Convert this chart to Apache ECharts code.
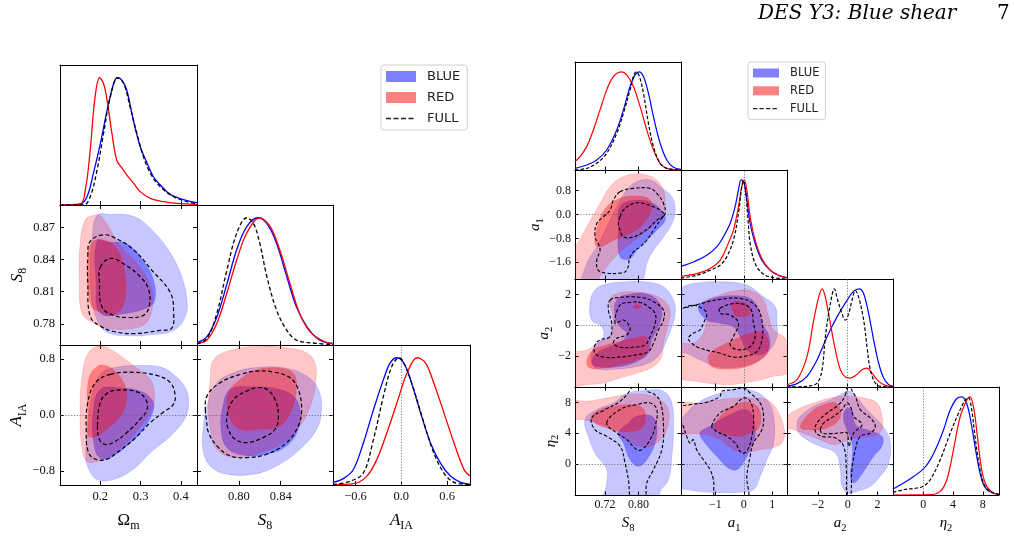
<!DOCTYPE html>
<html><head><meta charset="utf-8">
<script src="https://cdn.jsdelivr.net/npm/echarts@6/dist/echarts.min.js"></script>
<style>html,body{margin:0;padding:0;background:#fff}#chart{width:1014px;height:560px}</style>
</head><body><div id="chart"></div>
<script>
// ================= DATA =================
// tick values
const TICK_OM = [0.2, 0.3, 0.4];
const TICK_S8_X = [0.80, 0.84];
const TICK_S8_Y = [0.78, 0.81, 0.84, 0.87];
const TICK_AIA_X = [-0.6, 0, 0.6];
const TICK_AIA_Y = [-0.8, 0, 0.8];
const TICK_RS8 = [0.72, 0.80];
const TICK_A1_X = [-1, 0, 1];
const TICK_A1_Y = [-1.6, -0.8, 0, 0.8];
const TICK_A2 = [-2, 0, 2];
const TICK_ETA = [0, 4, 8];
// axis ranges
const RANGE_OM = [0.10, 0.44];
const RANGE_S8_X = [0.76, 0.89];
const RANGE_S8_Y = [0.7604, 0.8908];
const RANGE_AIA_X = [-0.894, 0.899];
const RANGE_AIA_Y = [-1.0, 1.0];
const RANGE_RS8 = [0.648, 0.902];
const RANGE_A1_X = [-2.21, 1.52];
const RANGE_A1_Y = [-2.16, 1.49];
const RANGE_A2_X = [-4.07, 3.04];
const RANGE_A2_Y = [-4.0, 3.0];
const RANGE_ETA_X = [-4.06, 10.18];
const RANGE_ETA_Y = [-4.03, 10.0];
const RANGE_PDF = [0, 1.1];
const LEGEND_NAMES = ['BLUE', 'RED', 'FULL'];

// ---- left figure: 1D marginals ----
const L_Om_blue = [[0.10,0],[0.15,0.008],[0.167,0.065],[0.183,0.25],[0.2,0.48],[0.217,0.745],[0.233,0.955],[0.243,1.0],[0.254,0.98],[0.266,0.90],[0.283,0.65],[0.299,0.46],[0.316,0.33],[0.332,0.22],[0.349,0.157],[0.365,0.105],[0.382,0.07],[0.415,0.034],[0.44,0.018]];
const L_Om_red = [[0.10,0],[0.15,0.005],[0.163,0.12],[0.175,0.43],[0.186,0.82],[0.198,1.0],[0.208,0.955],[0.217,0.82],[0.229,0.56],[0.241,0.35],[0.254,0.29],[0.266,0.235],[0.283,0.17],[0.299,0.105],[0.324,0.052],[0.357,0.026],[0.39,0.013],[0.44,0.005]];
const L_Om_full = [[0.10,0],[0.159,0],[0.175,0.065],[0.192,0.275],[0.208,0.56],[0.225,0.85],[0.243,1.0],[0.258,0.955],[0.274,0.77],[0.291,0.56],[0.307,0.38],[0.324,0.25],[0.349,0.143],[0.382,0.065],[0.415,0.026],[0.44,0.008]];
const L_S8_blue = [[0.76,0.018],[0.7695,0.065],[0.779,0.22],[0.7886,0.48],[0.798,0.75],[0.8076,0.93],[0.818,1.0],[0.8267,0.955],[0.836,0.80],[0.8457,0.54],[0.855,0.30],[0.865,0.144],[0.877,0.039],[0.89,0.013]];
const L_S8_red = [[0.76,0.013],[0.7695,0.039],[0.779,0.17],[0.7886,0.41],[0.798,0.67],[0.8076,0.88],[0.8197,1.0],[0.830,0.93],[0.839,0.75],[0.849,0.48],[0.858,0.25],[0.868,0.105],[0.8806,0.031],[0.89,0.008]];
const L_S8_full = [[0.76,0.008],[0.7695,0.052],[0.779,0.25],[0.7886,0.59],[0.798,0.88],[0.8076,1.0],[0.814,0.955],[0.820,0.80],[0.8267,0.54],[0.836,0.275],[0.8457,0.118],[0.855,0.039],[0.874,0.013],[0.89,0.003]];
const L_A_blue = [[-0.894,0.02],[-0.76,0.05],[-0.629,0.12],[-0.497,0.33],[-0.365,0.59],[-0.233,0.83],[-0.145,0.96],[-0.057,1.0],[0.031,0.96],[0.119,0.83],[0.251,0.57],[0.382,0.33],[0.514,0.17],[0.646,0.068],[0.778,0.021],[0.899,0.005]];
const L_A_full = [[-0.894,0.003],[-0.673,0.029],[-0.497,0.094],[-0.365,0.357],[-0.233,0.70],[-0.123,0.934],[-0.026,1.0],[0.053,0.934],[0.163,0.75],[0.295,0.49],[0.426,0.25],[0.558,0.094],[0.690,0.021],[0.899,0.003]];
const L_A_red = [[-0.894,0.003],[-0.629,0.01],[-0.453,0.068],[-0.321,0.2],[-0.189,0.41],[-0.057,0.646],[0.075,0.88],[0.207,1.0],[0.316,0.96],[0.426,0.80],[0.558,0.567],[0.690,0.33],[0.822,0.12],[0.899,0.07]];

// ---- left figure: 2D contours (x, y) ----
const L_S8Om_blue2 = [[0.192,0.881],[0.225,0.882],[0.283,0.880],[0.332,0.866],[0.374,0.846],[0.402,0.824],[0.415,0.802],[0.411,0.787],[0.382,0.774],[0.324,0.770],[0.266,0.769],[0.225,0.771],[0.2,0.778],[0.18,0.80],[0.175,0.83],[0.18,0.86]];
const L_S8Om_blue1 = [[0.192,0.857],[0.225,0.856],[0.265,0.855],[0.312,0.836],[0.334,0.818],[0.334,0.801],[0.316,0.795],[0.266,0.79],[0.2,0.79],[0.19,0.818]];
const L_S8Om_red2 = [[0.183,0.881],[0.2,0.881],[0.25,0.853],[0.298,0.833],[0.325,0.815],[0.33,0.799],[0.316,0.782],[0.283,0.776],[0.217,0.776],[0.183,0.781],[0.155,0.790],[0.148,0.818],[0.15,0.855],[0.163,0.877]];
const L_S8Om_red1 = [[0.2,0.859],[0.237,0.852],[0.258,0.833],[0.262,0.805],[0.241,0.790],[0.2,0.791],[0.175,0.799],[0.171,0.849],[0.183,0.857]];
const L_S8Om_full2 = [[0.169,0.843],[0.175,0.857],[0.208,0.863],[0.237,0.860],[0.283,0.849],[0.328,0.830],[0.374,0.809],[0.382,0.790],[0.377,0.776],[0.348,0.774],[0.283,0.771],[0.233,0.773],[0.2,0.778],[0.175,0.787],[0.169,0.818]];
const L_S8Om_full1 = [[0.2,0.833],[0.225,0.841],[0.258,0.836],[0.299,0.824],[0.320,0.812],[0.321,0.796],[0.307,0.788],[0.270,0.786],[0.233,0.788],[0.204,0.796],[0.198,0.818]];

const L_AOm_blue2 = [[0.233,0.674],[0.299,0.707],[0.349,0.684],[0.382,0.58],[0.411,0.39],[0.419,0.20],[0.411,-0.04],[0.374,-0.30],[0.324,-0.54],[0.283,-0.77],[0.233,-0.92],[0.192,-0.92],[0.171,-0.77],[0.164,-0.58],[0.169,-0.20],[0.179,0.27],[0.2,0.58]];
const L_AOm_blue1 = [[0.2,0.366],[0.25,0.385],[0.299,0.34],[0.328,0.22],[0.332,0.08],[0.307,-0.20],[0.266,-0.44],[0.225,-0.61],[0.2,-0.62],[0.185,-0.44],[0.182,0.03]];
const L_AOm_red2 = [[0.2,0.99],[0.233,0.91],[0.283,0.70],[0.324,0.51],[0.334,0.32],[0.332,0.15],[0.307,-0.11],[0.266,-0.39],[0.225,-0.58],[0.192,-0.665],[0.167,-0.665],[0.155,-0.49],[0.150,0.03],[0.155,0.56],[0.171,0.89]];
const L_AOm_red1 = [[0.192,0.69],[0.217,0.70],[0.241,0.60],[0.262,0.41],[0.264,0.18],[0.25,-0.014],[0.217,-0.20],[0.192,-0.30],[0.171,-0.30],[0.169,0.03],[0.171,0.51]];
const L_AOm_full2 = [[0.225,0.58],[0.283,0.61],[0.340,0.565],[0.374,0.46],[0.386,0.27],[0.38,0.14],[0.357,0.043],[0.324,-0.11],[0.283,-0.35],[0.241,-0.54],[0.217,-0.63],[0.192,-0.64],[0.171,-0.54],[0.165,-0.20],[0.169,0.18],[0.188,0.46]];
const L_AOm_full1 = [[0.193,-0.157],[0.2,0.176],[0.217,0.31],[0.241,0.356],[0.291,0.33],[0.313,0.22],[0.316,0.08],[0.299,-0.06],[0.266,-0.25],[0.233,-0.39],[0.212,-0.42],[0.198,-0.35]];

const L_AS8_red2 = [[0.776,0.793],[0.795,0.935],[0.8203,0.983],[0.8457,0.959],[0.8648,0.888],[0.8727,0.745],[0.8737,0.508],[0.8695,0.176],[0.8584,-0.157],[0.8425,-0.394],[0.8203,-0.537],[0.795,-0.608],[0.779,-0.49],[0.7727,-0.204],[0.771,0.128],[0.7727,0.508]];
const L_AS8_red1 = [[0.8013,0.508],[0.814,0.627],[0.830,0.674],[0.8457,0.65],[0.8537,0.556],[0.8546,0.318],[0.8505,0.08],[0.8394,-0.157],[0.8203,-0.204],[0.8013,-0.204],[0.7917,-0.062],[0.7886,0.176],[0.7917,0.366]];
const L_AS8_blue2 = [[0.779,0.46],[0.795,0.603],[0.814,0.674],[0.8425,0.674],[0.8648,0.556],[0.8759,0.366],[0.879,0.08],[0.8743,-0.204],[0.8584,-0.49],[0.836,-0.727],[0.814,-0.845],[0.7886,-0.845],[0.7727,-0.727],[0.7657,-0.49],[0.7663,-0.157],[0.7695,0.128]];
const L_AS8_blue1 = [[0.7917,0.366],[0.814,0.404],[0.836,0.375],[0.852,0.27],[0.8584,0.08],[0.8568,-0.204],[0.8457,-0.44],[0.8267,-0.56],[0.8044,-0.575],[0.7886,-0.465],[0.783,-0.204],[0.7848,0.128]];
const L_AS8_full2 = [[0.768,0.057],[0.7695,0.27],[0.782,0.46],[0.8013,0.579],[0.817,0.627],[0.833,0.613],[0.849,0.532],[0.8568,0.366],[0.860,0.08],[0.8568,-0.157],[0.8457,-0.394],[0.8267,-0.56],[0.8076,-0.608],[0.7917,-0.584],[0.779,-0.44],[0.771,-0.25],[0.769,-0.062]];
const L_AS8_full1 = [[0.7886,-0.014],[0.795,0.223],[0.8076,0.342],[0.817,0.389],[0.8267,0.366],[0.8346,0.223],[0.8378,-0.014],[0.8346,-0.204],[0.8235,-0.32],[0.8076,-0.394],[0.7965,-0.347],[0.790,-0.204]];

// ---- right figure: 1D marginals ----
const R_S8_red = [[0.648,0.085],[0.66,0.136],[0.676,0.238],[0.692,0.408],[0.708,0.612],[0.724,0.816],[0.74,0.952],[0.76,1],[0.772,0.969],[0.788,0.85],[0.804,0.646],[0.82,0.408],[0.836,0.204],[0.852,0.068],[0.868,0.017],[0.902,0]];
const R_S8_blue = [[0.648,0.017],[0.676,0.051],[0.70,0.102],[0.724,0.204],[0.748,0.408],[0.764,0.612],[0.78,0.85],[0.792,0.969],[0.8016,1],[0.812,0.952],[0.824,0.782],[0.836,0.544],[0.852,0.272],[0.868,0.102],[0.884,0.027],[0.902,0.007]];
const R_S8_full = [[0.648,0],[0.676,0.017],[0.70,0.068],[0.724,0.17],[0.748,0.374],[0.764,0.578],[0.78,0.816],[0.788,0.952],[0.7944,1],[0.8024,0.952],[0.812,0.782],[0.824,0.476],[0.836,0.238],[0.852,0.068],[0.868,0.017],[0.902,0]];
const R_a1_blue = [[-2.21,0.128],[-1.776,0.172],[-1.306,0.24],[-0.953,0.324],[-0.718,0.426],[-0.482,0.56],[-0.306,0.73],[-0.188,0.9],[-0.094,1],[0.012,0.966],[0.106,0.797],[0.224,0.56],[0.4,0.358],[0.635,0.189],[0.929,0.088],[1.224,0.037],[1.518,0.014]];
const R_a1_red = [[-2.21,0.027],[-1.659,0.054],[-1.188,0.105],[-0.835,0.189],[-0.6,0.324],[-0.365,0.493],[-0.188,0.73],[-0.071,0.932],[0.012,1],[0.106,0.9],[0.224,0.628],[0.4,0.392],[0.635,0.206],[0.929,0.088],[1.224,0.037],[1.518,0.01]];
const R_a1_full = [[-2.21,0.01],[-1.659,0.037],[-1.188,0.088],[-0.835,0.139],[-0.6,0.223],[-0.365,0.392],[-0.188,0.662],[-0.071,0.932],[-0.012,0.993],[0.059,0.9],[0.141,0.628],[0.224,0.358],[0.4,0.155],[0.635,0.061],[0.929,0.02],[1.518,0]];
const R_a2_red = [[-4.07,0.024],[-3.4,0.074],[-2.73,0.31],[-2.28,0.68],[-1.944,0.916],[-1.72,1],[-1.497,0.916],[-1.162,0.646],[-0.827,0.377],[-0.49,0.175],[-0.156,0.101],[0.179,0.091],[0.514,0.114],[0.961,0.175],[1.296,0.192],[1.631,0.141],[2.078,0.057],[2.525,0.017],[3.04,0.007]];
const R_a2_full = [[-4.07,0],[-2.73,0.007],[-2.056,0.04],[-1.72,0.175],[-1.497,0.512],[-1.162,0.848],[-0.894,1],[-0.67,0.882],[-0.38,0.747],[-0.156,0.68],[0.067,0.747],[0.29,0.882],[0.514,0.983],[0.737,0.916],[1.073,0.68],[1.296,0.41],[1.52,0.175],[1.855,0.04],[2.19,0.007],[3.04,0]];
const R_a2_blue = [[-4.07,0.007],[-3.4,0.034],[-2.73,0.108],[-2.056,0.276],[-1.385,0.512],[-0.715,0.714],[-0.045,0.882],[0.402,0.976],[0.782,1],[1.073,0.949],[1.408,0.747],[1.743,0.478],[2.078,0.242],[2.413,0.091],[2.749,0.024],[3.04,0.007]];
const R_eta_blue = [[-4.06,0.061],[-2.63,0.122],[-1.29,0.189],[0,0.264],[0.94,0.358],[1.83,0.493],[2.72,0.662],[3.62,0.865],[4.51,0.983],[5.18,1],[5.85,0.932],[6.52,0.696],[7.19,0.392],[7.86,0.155],[8.53,0.054],[9.42,0.02],[10.18,0.007]];
const R_eta_full = [[-4.06,0.027],[-2.63,0.054],[-0.85,0.071],[0,0.088],[0.94,0.155],[2.28,0.358],[3.62,0.628],[4.73,0.831],[5.63,0.966],[6.07,0.993],[6.52,0.865],[6.96,0.595],[7.63,0.257],[8.3,0.088],[9.2,0.027],[10.18,0.007]];
const R_eta_red = [[-4.06,0],[0.94,0.003],[2.28,0.037],[3.17,0.155],[4.06,0.459],[4.96,0.797],[5.85,0.966],[6.29,1],[6.83,0.865],[7.28,0.595],[7.86,0.257],[8.53,0.088],[9.42,0.02],[10.18,0.003]];

// ---- right figure: 2D contours (x, y) ----
const R_a1S8_blue2 = [[0.668,-2.4],[0.676,-1.648],[0.70,-1.087],[0.724,-0.415],[0.748,0.258],[0.772,0.818],[0.796,1.099],[0.828,1.155],[0.852,0.93],[0.88,0.594],[0.888,0.146],[0.88,-0.303],[0.86,-0.751],[0.836,-1.2],[0.82,-1.648],[0.812,-2.164],[0.80,-2.4]];
const R_a1S8_blue1 = [[0.756,0.258],[0.796,0.482],[0.836,0.37],[0.86,0.034],[0.864,-0.19],[0.844,-0.527],[0.82,-0.863],[0.796,-1.2],[0.78,-1.48],[0.76,-1.48],[0.752,-1.2],[0.752,-0.527]];
const R_a1S8_red2 = [[0.63,-1.35],[0.648,-1.087],[0.676,-0.415],[0.708,0.37],[0.732,0.93],[0.756,1.211],[0.788,1.357],[0.82,1.323],[0.844,1.155],[0.86,0.818],[0.864,0.37],[0.86,0.034],[0.836,-0.36],[0.796,-0.807],[0.756,-1.256],[0.724,-1.76],[0.704,-2.164],[0.69,-2.4],[0.63,-2.4]];
const R_a1S8_red1 = [[0.696,-0.975],[0.704,-0.303],[0.724,0.258],[0.756,0.538],[0.788,0.617],[0.824,0.538],[0.832,0.258],[0.824,-0.078],[0.804,-0.415],[0.772,-0.695],[0.74,-0.863],[0.708,-1.087]];
const R_a1S8_full2 = [[0.756,0.762],[0.788,0.874],[0.828,0.874],[0.844,0.706],[0.86,0.37],[0.864,0.034],[0.852,-0.19],[0.836,-0.527],[0.82,-0.863],[0.804,-1.087],[0.792,-1.2],[0.78,-1.424],[0.772,-1.872],[0.756,-1.962],[0.724,-1.962],[0.704,-1.872],[0.70,-1.536],[0.708,-1.2],[0.704,-0.975],[0.696,-0.751],[0.70,-0.303],[0.716,-0.078],[0.732,0.146],[0.74,0.482]];
const R_a1S8_full1 = [[0.756,-0.078],[0.764,0.146],[0.788,0.37],[0.812,0.37],[0.836,0.258],[0.852,0.146],[0.8616,-0.022],[0.844,-0.19],[0.828,-0.415],[0.812,-0.583],[0.788,-0.751],[0.764,-0.751],[0.756,-0.527],[0.752,-0.303]];

const R_a2S8_blue2 = [[0.684,1.42],[0.696,2.28],[0.724,2.67],[0.772,2.82],[0.82,2.8],[0.86,2.49],[0.884,1.63],[0.888,0.77],[0.88,-0.09],[0.868,-0.95],[0.852,-1.81],[0.832,-2.34],[0.796,-2.67],[0.748,-2.84],[0.70,-2.82],[0.688,-2.34],[0.692,-1.48],[0.716,-0.73],[0.712,-0.09],[0.688,0.34]];
const R_a2S8_blue1 = [[0.748,1.63],[0.78,2.02],[0.82,2.02],[0.848,1.53],[0.856,0.77],[0.848,-0.09],[0.832,-0.95],[0.824,-1.81],[0.796,-2.34],[0.756,-2.67],[0.708,-2.71],[0.688,-2.45],[0.70,-1.81],[0.732,-1.38],[0.764,-0.95],[0.772,-0.52],[0.756,-0.09],[0.744,0.56]];
const R_a2S8_red2 = [[0.63,-1.95],[0.676,-1.59],[0.708,-1.05],[0.732,-0.73],[0.74,0.34],[0.732,1.63],[0.748,2.06],[0.788,2.17],[0.836,1.96],[0.868,1.42],[0.876,0.77],[0.868,-0.3],[0.86,-1.16],[0.856,-2.02],[0.836,-2.67],[0.796,-3.1],[0.756,-3.42],[0.716,-3.74],[0.676,-3.85],[0.63,-3.9]];
const R_a2S8_red1a = [[0.676,-2.34],[0.692,-1.59],[0.724,-1.27],[0.756,-1.05],[0.788,-0.84],[0.816,-0.73],[0.824,-1.16],[0.82,-1.81],[0.796,-2.24],[0.756,-2.56],[0.716,-2.77],[0.684,-2.77]];
const R_a2S8_red1b = [[0.788,1.2],[0.796,1.33],[0.806,1.25],[0.802,1.1],[0.792,1.1]];
const R_a2S8_full2 = [[0.732,1.63],[0.756,1.81],[0.804,1.81],[0.836,1.53],[0.86,0.99],[0.86,0.34],[0.848,-0.3],[0.836,-1.16],[0.824,-1.7],[0.796,-1.91],[0.756,-2.06],[0.716,-2.06],[0.696,-1.81],[0.696,-1.27],[0.708,-0.95],[0.732,-0.73],[0.736,0.13],[0.728,0.99]];
const R_a2S8_full1 = [[0.744,0.13],[0.756,1.31],[0.78,1.48],[0.804,1.48],[0.824,1.2],[0.84,0.77],[0.84,0.13],[0.828,-0.73],[0.816,-1.27],[0.788,-1.42],[0.756,-1.42],[0.74,-1.16],[0.748,-0.84],[0.772,-0.62],[0.78,-0.19],[0.764,0.34]];

const R_eS8_blue2 = [[0.672,5.76],[0.70,7.06],[0.74,7.92],[0.772,9.13],[0.82,9.57],[0.86,9.44],[0.88,7.92],[0.884,4.46],[0.88,1.0],[0.872,-2.03],[0.852,-3.55],[0.845,-4.6],[0.72,-4.6],[0.724,-2.47],[0.724,-0.74],[0.696,1.43],[0.68,3.59]];
const R_eS8_blue1 = [[0.752,4.03],[0.776,5.32],[0.796,6.19],[0.832,6.19],[0.844,4.89],[0.84,2.73],[0.82,0.56],[0.8,-0.3],[0.78,0.56],[0.764,2.73]];
const R_eS8_red2 = [[0.63,8.2],[0.676,8.14],[0.724,8.57],[0.772,9.0],[0.82,9.0],[0.852,8.35],[0.872,7.06],[0.872,5.32],[0.86,3.59],[0.836,2.51],[0.804,2.29],[0.772,3.16],[0.74,4.46],[0.70,5.32],[0.668,5.76],[0.63,5.97]];
const R_eS8_red1 = [[0.688,6.19],[0.708,7.06],[0.74,7.49],[0.772,7.71],[0.804,7.49],[0.816,6.62],[0.812,4.89],[0.788,4.24],[0.756,4.24],[0.724,4.68],[0.696,5.32]];
const R_eS8_full2 = [[0.688,5.97],[0.72,7.06],[0.756,8.14],[0.78,9.57],[0.79,10.6],[0.812,10.6],[0.82,9.5],[0.836,9.13],[0.852,8.14],[0.86,4.89],[0.856,1.86],[0.836,-0.74],[0.82,-2.47],[0.814,-4.6],[0.784,-4.6],[0.776,-2.03],[0.768,0.13],[0.756,2.29],[0.724,3.59],[0.696,4.46]];
const R_eS8_full1 = [[0.724,5.32],[0.756,7.06],[0.796,7.71],[0.828,7.92],[0.844,7.06],[0.84,4.89],[0.828,3.16],[0.808,1.86],[0.796,1.86],[0.772,3.16],[0.748,4.03]];

const R_a2a1_blue2 = [[-2.3,1.8],[-2.21,2.38],[-1.776,2.71],[-0.835,2.82],[0.106,2.6],[0.694,1.85],[1.106,1.2],[1.165,0.13],[1.165,-0.73],[0.929,-1.59],[0.576,-2.24],[-0.129,-2.67],[-0.953,-2.67],[-1.541,-2.24],[-2.01,-1.81],[-2.3,-1.7]];
const R_a2a1_blue1 = [[-1.6,1.2],[-1.188,1.68],[-0.482,1.91],[0.224,1.74],[0.518,0.99],[0.635,0.13],[0.871,-0.62],[0.871,-1.59],[0.518,-1.91],[0.106,-1.59],[-0.129,-0.73],[-0.365,-0.09],[-0.835,0.13],[-1.306,0.34]];
const R_a2a1_red2 = [[-2.3,-1.27],[-1.776,-1.16],[-1.424,-0.52],[-1.306,0.56],[-1.424,1.42],[-0.835,1.96],[-0.129,2.28],[0.341,2.17],[0.694,1.63],[0.871,0.56],[1.047,-0.3],[1.4,-0.73],[1.6,-1.4],[1.6,-3.0],[1.047,-3.31],[0.341,-3.63],[-0.6,-3.85],[-1.659,-3.63],[-2.3,-3.3]];
const R_a2a1_red1a = [[-0.424,1.42],[-0.129,1.53],[0.165,1.31],[0.224,0.77],[0,0.56],[-0.306,0.67]];
const R_a2a1_red1b = [[-1.188,-1.81],[-0.835,-1.38],[-0.365,-0.95],[0.224,-0.52],[0.576,-0.41],[0.812,-0.73],[0.871,-1.59],[0.576,-2.24],[0.106,-2.67],[-0.6,-2.84],[-1.129,-2.67],[-1.247,-2.24]];
const R_a2a1_full2 = [[-2.13,1.1],[-1.776,1.31],[-1.482,1.1],[-1.306,0.77],[-1.424,0.13],[-1.541,-0.3],[-1.776,-0.52],[-1.953,-0.84],[-1.835,-1.16],[-1.541,-1.48],[-0.835,-1.81],[-0.365,-2.06],[0.106,-1.98],[0.459,-1.7],[0.635,-0.95],[0.635,0.34],[0.4,1.31],[-0.129,1.74],[-0.835,1.68],[-1.482,1.42]];
const R_a2a1_full1 = [[-0.835,1.1],[-0.247,1.42],[0.224,1.1],[0.341,0.13],[0.4,-0.73],[0.224,-1.38],[-0.188,-1.59],[-0.482,-1.27],[-0.365,-0.73],[-0.188,0.13],[-0.482,0.67],[-0.835,0.77]];

const R_ea1_blue2 = [[-2.3,4.89],[-2.01,6.62],[-1.541,8.14],[-0.835,9.22],[-0.247,9.74],[0.224,9.65],[0.812,8.35],[1.047,6.19],[1.047,2.73],[0.812,0.56],[0.576,-1.6],[0.341,-3.33],[-0.129,-3.68],[-1.188,-3.68],[-1.953,-3.33],[-2.3,-2.8]];
const R_ea1_blue1 = [[-1.541,4.03],[-1.188,4.89],[-0.6,6.19],[0.106,7.06],[0.341,5.76],[0.4,3.59],[0.224,1.86],[0.047,0.56],[-0.247,-0.74],[-0.541,-0.52],[-0.953,1.0],[-1.365,2.73]];
const R_ea1_red2 = [[-2.3,7.71],[-1.541,7.92],[-0.835,8.35],[-0.247,8.57],[0.341,8.57],[0.812,8.35],[1.165,7.06],[1.4,4.89],[1.4,3.16],[1.165,2.29],[0.576,1.86],[0.106,1.52],[-0.365,1.86],[-0.835,3.16],[-1.306,3.81],[-1.776,3.94],[-2.3,4.03]];
const R_ea1_red1 = [[-1.071,4.89],[-0.718,6.62],[-0.365,7.49],[0.106,8.01],[0.459,7.49],[0.6,6.19],[0.518,4.68],[0.224,4.03],[-0.129,3.59],[-0.6,3.81],[-0.953,4.46]];
const R_ea1_full2 = [[-2.3,7.2],[-1.896,7.71],[-1.306,8.01],[-0.835,8.79],[-0.777,9.44],[-0.365,9.65],[-0.012,9.87],[0.224,9.22],[0.576,7.92],[0.694,6.19],[0.635,4.46],[0.341,2.73],[0.224,1.0],[0.106,-1.6],[0.106,-4.6],[-0.953,-4.6],[-1.071,-2.03],[-1.188,-0.74],[-1.424,0.56],[-1.659,1.86],[-1.776,3.16],[-1.894,2.73],[-2.01,3.59],[-2.13,4.89],[-2.21,5.32],[-2.3,5.5]];
const R_ea1_full1 = [[-1.129,4.89],[-0.835,6.62],[-0.365,7.49],[-0.012,8.57],[0.224,8.14],[0.341,6.19],[0.282,3.59],[0.106,1.65],[-0.071,1.43],[-0.306,2.73],[-0.6,3.59],[-0.953,4.24]];

const R_ea2_blue2 = [[-3.17,6.19],[-2.28,7.49],[-1.162,8.35],[-0.27,9.22],[0.179,9.44],[0.626,8.57],[1.296,7.06],[1.966,5.76],[2.525,4.46],[2.86,2.73],[2.75,0.13],[2.19,-1.6],[1.52,-2.9],[0.626,-3.55],[0.067,-3.77],[-0.38,-2.9],[-0.49,-0.74],[-0.827,1.43],[-1.83,2.29],[-2.73,3.16],[-3.28,4.03],[-3.4,5.32]];
const R_ea2_blue1 = [[-0.156,7.06],[0.29,7.06],[0.402,5.76],[0.626,4.89],[1.296,4.46],[2.3,3.59],[2.3,2.29],[1.743,1.0],[1.296,-0.3],[0.849,-1.6],[0.402,-2.47],[0.179,-1.6],[0.29,0.56],[0.29,2.73],[-0.045,4.46],[-0.27,5.76]];
const R_ea2_red2 = [[-4.2,5.9],[-3.4,7.06],[-2.28,7.92],[-1.162,8.57],[-0.045,8.79],[1.073,8.57],[1.966,7.92],[2.3,6.19],[2.3,4.46],[1.966,3.81],[1.296,3.59],[0.402,3.38],[-0.49,2.73],[-0.94,2.51],[-1.83,3.16],[-2.73,3.81],[-3.62,4.46],[-4.2,4.7]];
const R_ea2_red1 = [[-3.17,4.89],[-2.95,5.76],[-2.28,7.06],[-1.61,7.71],[-0.827,7.92],[-0.49,7.06],[-0.6,5.76],[-1.162,4.89],[-1.83,4.46],[-2.5,4.46],[-3.06,4.55]];
const R_ea2_full2 = [[-0.156,9.0],[0.0,10.6],[0.2,10.6],[0.179,10.0],[0.514,8.79],[0.849,7.06],[1.52,5.97],[1.855,4.89],[1.52,4.03],[0.849,3.59],[0.514,1.86],[0.29,-0.74],[0.179,-4.6],[-0.045,-4.6],[-0.09,-0.74],[-0.27,2.29],[-0.827,3.38],[-1.72,3.59],[-2.17,4.24],[-2.06,5.32],[-1.385,6.62],[-0.6,7.71]];
const R_ea2_full1 = [[-1.83,4.46],[-1.61,5.32],[-0.94,6.19],[-0.38,7.06],[-0.045,7.92],[0.179,7.49],[0.402,6.19],[0.961,5.11],[0.402,4.03],[0.067,2.29],[-0.045,4.03],[-0.49,4.03],[-1.162,3.94],[-1.72,4.03]];

// ================= LAYOUT & STYLE =================
const SERIF = "'Liberation Serif', 'DejaVu Serif', serif";
const SERIF_WIDE = "'DejaVu Serif', 'Liberation Serif', serif";
const SANS = "'DejaVu Sans', sans-serif";
const FIGS = {
  L: {xs:[60,197,333,470], ys:[65,205,345,485], tickFont:12.5, nameFont:17, subFont:12, subDrop:8, tickLen:4, labelMargin:5, xNameGap:27, dash:[4,2.5], lw:1.2},
  R: {xs:[575,681,787,893,999], ys:[62,170,279,387,495], tickFont:12, nameFont:15, subFont:10.5, subDrop:7, tickLen:3.5, labelMargin:4, xNameGap:21, dash:[3.5,2], lw:1.1}
};
const AX = {
  Om:   {range:RANGE_OM,    ticks:TICK_OM,    dec:1, nm:['Ω','m',false]},
  S8x:  {range:RANGE_S8_X,  ticks:TICK_S8_X,  dec:2, nm:['S','8',true]},
  S8y:  {range:RANGE_S8_Y,  ticks:TICK_S8_Y,  dec:2, nm:['S','8',true], yGap:32, zero:false},
  AIAx: {range:RANGE_AIA_X, ticks:TICK_AIA_X, dec:1, nm:['A','IA',true], zero:true},
  AIAy: {range:RANGE_AIA_Y, ticks:TICK_AIA_Y, dec:1, nm:['A','IA',true], yGap:32, zero:true},
  rS8:  {range:RANGE_RS8,   ticks:TICK_RS8,   dec:2, nm:['S','8',true]},
  a1x:  {range:RANGE_A1_X,  ticks:TICK_A1_X,  dec:0, nm:['a','1',true], zero:true},
  a1y:  {range:RANGE_A1_Y,  ticks:TICK_A1_Y,  dec:1, nm:['a','1',true], yGap:28, zero:true},
  a2x:  {range:RANGE_A2_X,  ticks:TICK_A2,    dec:0, nm:['a','2',true], zero:true},
  a2y:  {range:RANGE_A2_Y,  ticks:TICK_A2,    dec:0, nm:['a','2',true], yGap:18, zero:true},
  etx:  {range:RANGE_ETA_X, ticks:TICK_ETA,   dec:0, nm:['η','2',true], zero:true},
  ety:  {range:RANGE_ETA_Y, ticks:TICK_ETA,   dec:0, nm:['η','2',true], yGap:8, zero:true}
};
const PANELS = [
  {fig:'L', r:0, c:0, x:'Om', lines:[L_Om_blue, L_Om_red, L_Om_full]},
  {fig:'L', r:1, c:0, x:'Om', y:'S8y', fills:[[L_S8Om_blue2],[L_S8Om_blue1],[L_S8Om_red2],[L_S8Om_red1]], full:[L_S8Om_full2, L_S8Om_full1]},
  {fig:'L', r:1, c:1, x:'S8x', lines:[L_S8_blue, L_S8_red, L_S8_full]},
  {fig:'L', r:2, c:0, x:'Om', y:'AIAy', fills:[[L_AOm_blue2],[L_AOm_blue1],[L_AOm_red2],[L_AOm_red1]], full:[L_AOm_full2, L_AOm_full1]},
  {fig:'L', r:2, c:1, x:'S8x', y:'AIAy', fills:[[L_AS8_blue2],[L_AS8_blue1],[L_AS8_red2],[L_AS8_red1]], full:[L_AS8_full2, L_AS8_full1]},
  {fig:'L', r:2, c:2, x:'AIAx', lines:[L_A_blue, L_A_red, L_A_full]},
  {fig:'R', r:0, c:0, x:'rS8', lines:[R_S8_blue, R_S8_red, R_S8_full]},
  {fig:'R', r:1, c:0, x:'rS8', y:'a1y', fills:[[R_a1S8_blue2],[R_a1S8_blue1],[R_a1S8_red2],[R_a1S8_red1]], full:[R_a1S8_full2, R_a1S8_full1]},
  {fig:'R', r:1, c:1, x:'a1x', lines:[R_a1_blue, R_a1_red, R_a1_full]},
  {fig:'R', r:2, c:0, x:'rS8', y:'a2y', fills:[[R_a2S8_blue2],[R_a2S8_blue1],[R_a2S8_red2],[R_a2S8_red1a, R_a2S8_red1b]], full:[R_a2S8_full2, R_a2S8_full1]},
  {fig:'R', r:2, c:1, x:'a1x', y:'a2y', fills:[[R_a2a1_blue2],[R_a2a1_blue1],[R_a2a1_red2],[R_a2a1_red1a, R_a2a1_red1b]], full:[R_a2a1_full2, R_a2a1_full1]},
  {fig:'R', r:2, c:2, x:'a2x', lines:[R_a2_blue, R_a2_red, R_a2_full]},
  {fig:'R', r:3, c:0, x:'rS8', y:'ety', fills:[[R_eS8_blue2],[R_eS8_blue1],[R_eS8_red2],[R_eS8_red1]], full:[R_eS8_full2, R_eS8_full1]},
  {fig:'R', r:3, c:1, x:'a1x', y:'ety', fills:[[R_ea1_blue2],[R_ea1_blue1],[R_ea1_red2],[R_ea1_red1]], full:[R_ea1_full2, R_ea1_full1]},
  {fig:'R', r:3, c:2, x:'a2x', y:'ety', fills:[[R_ea2_blue2],[R_ea2_blue1],[R_ea2_red2],[R_ea2_red1]], full:[R_ea2_full2, R_ea2_full1]},
  {fig:'R', r:3, c:3, x:'etx', lines:[R_eta_blue, R_eta_red, R_eta_full]}
];
const FILL_STYLES = [
  {name:'BLUE', fill:'rgba(0,0,255,0.22)', stroke:'rgba(0,0,255,0.18)'},
  {name:'BLUE', fill:'rgba(0,0,255,0.37)', stroke:'rgba(0,0,255,0.2)'},
  {name:'RED',  fill:'rgba(255,0,0,0.22)', stroke:'rgba(255,0,0,0.18)'},
  {name:'RED',  fill:'rgba(255,0,0,0.37)', stroke:'rgba(255,0,0,0.2)'}
];
const LINE_STYLES = [
  {name:'BLUE', color:'#0000ff', dashed:false},
  {name:'RED',  color:'#ff0000', dashed:false},
  {name:'FULL', color:'#000000', dashed:true}
];
const SMOOTH = 0.4;

function fmt(v, dec) { return Number(v).toFixed(dec).replace('-', '\u2212'); }
function richFor(F) {
  return {
    i: {fontFamily:SERIF, fontStyle:'italic', fontSize:F.nameFont, lineHeight:F.nameFont, verticalAlign:'top', color:'#000'},
    m: {fontFamily:SERIF, fontSize:F.nameFont, lineHeight:F.nameFont, verticalAlign:'top', color:'#000'},
    s: {fontFamily:SERIF, fontSize:F.subFont, lineHeight:F.subFont, padding:[F.subDrop,0,0,0], verticalAlign:'top', color:'#000'}
  };
}
function nameText(a) { return '{' + (a.nm[2] ? 'i' : 'm') + '|' + a.nm[0] + '}{s|' + a.nm[1] + '}'; }

function makeAxis(a, k, pos, showLabel, F, showTicks, isY) {
  const o = {
    type:'value', gridIndex:k, position:pos, min:a.range[0], max:a.range[1],
    axisLine:{show:true, onZero:false, lineStyle:{color:'#000', width:1}},
    axisTick:{show:showTicks, inside:true, length:F.tickLen, customValues:a.ticks, lineStyle:{color:'#000', width:1}},
    axisLabel:{show:showLabel, customValues:a.ticks, formatter:(v) => fmt(v, a.dec), margin:F.labelMargin,
               fontFamily:SERIF, fontSize:F.tickFont, color:'#111'},
    splitLine:{show:false}, splitArea:{show:false}
  };
  if (showLabel) {
    o.name = nameText(a);
    o.nameLocation = 'middle';
    o.nameGap = isY ? a.yGap : F.xNameGap;
    o.nameTextStyle = {rich: richFor(F)};
  }
  return o;
}
function pdfAxis(k, pos) {
  return {type:'value', gridIndex:k, position:pos, min:RANGE_PDF[0], max:RANGE_PDF[1],
    axisLine:{show:true, onZero:false, lineStyle:{color:'#000', width:1}},
    axisTick:{show:false}, axisLabel:{show:false}, splitLine:{show:false}};
}
function polySeries(name, pts, k, style, z) {
  return {
    type:'custom', name, xAxisIndex:2*k, yAxisIndex:2*k, z, silent:true, clip:true,
    data: pts, encode:{x:0, y:1},
    renderItem: function (params, api) {
      if (params.context.done) return;
      params.context.done = true;
      const points = pts.map(p => api.coord(p));
      const cs = params.coordSys;
      return {
        type:'polygon', shape:{points, smooth:SMOOTH}, style,
        clipPath:{type:'rect', shape:{x:cs.x, y:cs.y, width:cs.width, height:cs.height}}
      };
    }
  };
}

const grid = [], xAxis = [], yAxis = [], series = [];
PANELS.forEach((p, k) => {
  const F = FIGS[p.fig];
  const nRows = F.ys.length - 1;
  const left = F.xs[p.c], right = F.xs[p.c + 1], top = F.ys[p.r], bottom = F.ys[p.r + 1];
  grid.push({left, top, width:right - left, height:bottom - top, containLabel:false, outerBoundsMode:'none'});
  const xa = AX[p.x];
  const is2D = !!p.y;
  const lastRow = p.r === nRows - 1;
  xAxis.push(makeAxis(xa, k, 'bottom', lastRow, F, true, false));
  xAxis.push(makeAxis(xa, k, 'top', false, F, is2D, false));
  const marks = [];
  if (is2D) {
    const ya = AX[p.y];
    yAxis.push(makeAxis(ya, k, 'left', p.c === 0, F, true, true));
    yAxis.push(makeAxis(ya, k, 'right', false, F, true, true));
    if (xa.zero) marks.push({xAxis:0});
    if (ya.zero) marks.push({yAxis:0});
    p.fills.forEach((polys, i) => {
      const st = FILL_STYLES[i];
      polys.forEach(pts => series.push(polySeries(st.name, pts, k,
        {fill:st.fill, stroke:st.stroke, lineWidth:0.8}, 2)));
    });
    p.full.forEach(pts => series.push(polySeries('FULL', pts, k,
      {fill:'none', stroke:'#000', lineWidth:F.lw, lineDash:F.dash}, 5)));
  } else {
    yAxis.push(pdfAxis(k, 'left'));
    yAxis.push(pdfAxis(k, 'right'));
    if (xa.zero) marks.push({xAxis:0});
    p.lines.forEach((pts, i) => {
      const ls = LINE_STYLES[i];
      series.push({type:'line', name:ls.name, xAxisIndex:2*k, yAxisIndex:2*k, data:pts, z:5,
        showSymbol:false, smooth:0.35, clip:true, silent:true,
        lineStyle:{color:ls.color, width:F.lw + 0.1, type: ls.dashed ? F.dash : 'solid'},
        itemStyle:{color:ls.color}});
    });
  }
  if (marks.length) {
    series.push({type:'line', name:'zero-ref', xAxisIndex:2*k, yAxisIndex:2*k, data:[], z:4, silent:true,
      markLine:{silent:true, symbol:['none','none'], label:{show:false}, animation:false,
        lineStyle:{color:'#666', width:0.8, type:[1.2,1.6]}, data:marks}});
  }
});

const DASH_ICON = 'path://M0,0h0.01v0.01h-0.01z M0,4.3h5v1.4h-5z M7.5,4.3h5v1.4h-5z M15,4.3h5v1.4h-5z M22.5,4.3h5v1.4h-5z M29.99,9.99h0.01v0.01h-0.01z';
function legendFor(left, top, iw, ih, gap, fs, pad) {
  return {
    left, top, orient:'vertical', itemWidth:iw, itemHeight:ih, itemGap:gap, padding:pad,
    backgroundColor:'#fff', borderColor:'#d0d0d0', borderWidth:1, borderRadius:3, selectedMode:false,
    textStyle:{fontFamily:SANS, fontSize:fs, color:'#222', padding:[0,0,0,6]},
    data:[
      {name:LEGEND_NAMES[0], icon:'rect', itemStyle:{color:'#8080ff', borderWidth:0}},
      {name:LEGEND_NAMES[1], icon:'rect', itemStyle:{color:'#ff8080', borderWidth:0}},
      {name:LEGEND_NAMES[2], icon:DASH_ICON, itemStyle:{color:'#222', borderWidth:0}}
    ]
  };
}

const option = {
  animation:false,
  backgroundColor:'#fff',
  title:[
    {text:'DES Y3: Blue shear', left:758, top:4, padding:0,
     textStyle:{fontFamily:SERIF_WIDE, fontStyle:'italic', fontWeight:'normal', fontSize:20, color:'#000'}},
    {text:'7', left:997, top:4, padding:0,
     textStyle:{fontFamily:SERIF_WIDE, fontWeight:'normal', fontSize:20, color:'#000'}}
  ],
  legend:[
    legendFor(381, 65, 30, 11, 8, 13, [5,7,5,5]),
    legendFor(748, 62, 26, 9, 5.8, 11.5, [5,6,5,5])
  ],
  grid, xAxis, yAxis, series
};
const chart = echarts.init(document.getElementById('chart'), null, {renderer:'canvas'});
chart.setOption(option);
</script>
</body></html>
